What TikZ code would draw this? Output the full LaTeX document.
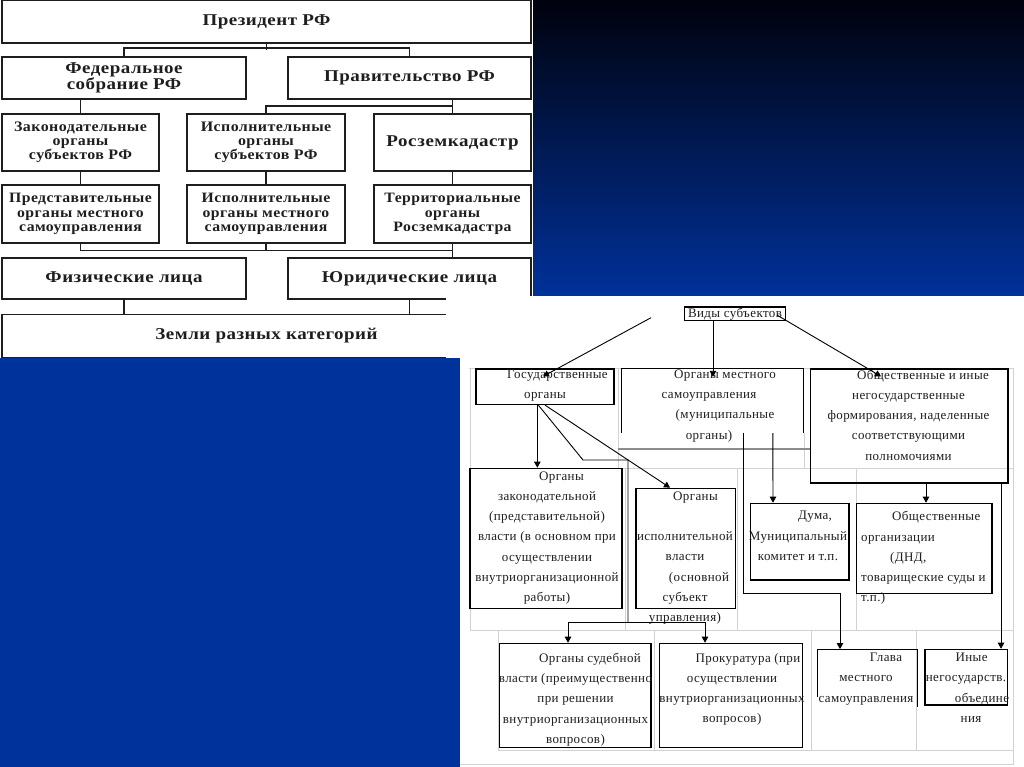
\documentclass[tikz,border=0pt]{standalone}
\usepackage{fontspec}
\setmainfont{Liberation Serif}
\newfontfamily\tpf{Liberation Serif}[FakeStretch=1.1,LetterSpace=3]
\newfontfamily\tpfb{Liberation Serif}[FakeStretch=1.15,LetterSpace=3]
\newfontfamily\rpf{Liberation Serif}[LetterSpace=3]
\usetikzlibrary{arrows.meta,calc}
\newcommand\tightls{\lineskiplimit=-30pt\relax}
\definecolor{bgtop}{HTML}{00020D}
\definecolor{bgmid}{HTML}{00329C}
\definecolor{ink}{HTML}{1E1E1E}
\definecolor{gridc}{HTML}{D2D2D2}
\definecolor{rulec}{HTML}{8C8C8C}
\begin{document}
\begin{tikzpicture}[x=1pt,y=-1pt,
  tbox/.style={draw=ink,line width=1.6pt,inner sep=0pt,text=ink,align=center},
  big/.style={font={\tpfb\bfseries\fontsize{16.5}{15.6}\selectfont\tightls}},
  small/.style={font={\tpf\bfseries\fontsize{14.5}{13.8}\selectfont\tightls}},
  smallb/.style={font={\tpf\bfseries\fontsize{14.3}{14.6}\selectfont\tightls}},
  tline/.style={draw=ink,line width=1.6pt},
  fr/.style={draw=black,line width=1.2pt,inner sep=0pt},
  edge/.style={draw=black,line width=1.2pt},
  rtext/.style={font={\rpf\fontsize{13}{20.3}\selectfont\tightls},text=ink,inner sep=0pt,align=center},
  arr/.style={draw=black,line width=0.9pt,-{Triangle[length=6pt,width=6.5pt]}},
  conn/.style={draw=black,line width=0.9pt},
  gridl/.style={draw=gridc,line width=0.8pt},
]
\useasboundingbox (0,0) rectangle (1024,767);
% background
\shade[top color=bgtop,bottom color=bgmid] (0,0) rectangle (1024,300);
\fill[bgmid] (0,299.5) rectangle (1024,767);

% ---------------- top-left panel ----------------
\fill[white] (0,0) rectangle (533,357.5);
\node[tbox,big,minimum width=529,minimum height=43] (pres) at (266.5,21.5) {Президент РФ};
\node[tbox,big,minimum width=244,minimum height=42] (fed) at (124,78) {Федеральное\\собрание РФ};
\node[tbox,big,minimum width=243,minimum height=42] (prav) at (409.5,78) {Правительство РФ};
\node[tbox,small,minimum width=157,minimum height=57] (zs) at (80.5,142.5) {Законодательные\\органы\\субъектов РФ};
\node[tbox,small,minimum width=158,minimum height=57] (is) at (266,142.5) {Исполнительные\\органы\\субъектов РФ};
\node[tbox,big,minimum width=157,minimum height=57] (rz) at (452.5,142.5) {Росземкадастр};
\node[tbox,smallb,minimum width=157,minimum height=57.5] (zp) at (80.5,214) {Представительные\\органы местного\\самоуправления};
\node[tbox,smallb,minimum width=158,minimum height=57.5] (ip) at (266,214) {Исполнительные\\органы местного\\самоуправления};
\node[tbox,smallb,minimum width=157,minimum height=57.5] (tr) at (452.5,214) {Территориальные\\органы\\Росземкадастра};
\node[tbox,big,minimum width=244,minimum height=41] (fiz) at (124,278.5) {Физические лица};
\node[tbox,big,minimum width=243,minimum height=41] (yur) at (409.5,278.5) {Юридические лица};
\node[tbox,big,minimum width=529,minimum height=43] (zem) at (266.5,336) {Земли разных категорий};

\draw[tline] (pres.south) -- ++(0,6.3);
\draw[tline] (fed.north) -- ++(0,-8) -| (prav.north);
\draw[tline] (fed.south -| zs.north) -- (zs.north);
\draw[tline] (prav.south -| rz.north) -- (rz.north);
\draw[tline] (is.north) -- ++(0,-7) -| (rz.north);
\draw[tline] (zs.south) -- (zp.north);
\draw[tline] (is.south) -- (ip.north);
\draw[tline] (rz.south) -- (tr.north);
\draw[tline] (zp.south) -- ++(0,7) -| (tr.south);
\draw[tline] (ip.south) -- ++(0,7);
\draw[tline] (tr.south) -- (tr.south |- yur.north);
\draw[tline] (fiz.south) -- (fiz.south |- zem.north);
\draw[tline] (yur.south) -- (yur.south |- zem.north);

% ---------------- bottom-right panel ----------------
\fill[white] (446,296) rectangle (1024,767);
\fill[bgmid] (0,357.5) rectangle (460,767);

% faint table grid
\draw[gridl] (469,368) -- (1014,368);
\draw[gridl] (470,468) -- (1014,468);
\draw[gridl] (470,630) -- (1014,630);
\draw[gridl] (498,750) -- (1014,750);
\draw[gridl] (460,764) -- (1014,764);
\draw[gridl] (470,368) -- (470,630);
\draw[gridl] (618,368) -- (618,468);
\draw[gridl] (804,433) -- (804,468);
\draw[gridl] (1013.5,368) -- (1013.5,764);
\draw[gridl] (625,468) -- (625,630);
\draw[gridl] (737,468) -- (737,630);
\draw[gridl] (856.7,468) -- (856.7,630);
\draw[gridl] (498,630) -- (498,750);
\draw[gridl] (654,630) -- (654,750);
\draw[gridl] (811,630) -- (811,750);
\draw[gridl] (916,630) -- (916,750);
\draw[draw=rulec,line width=1.3pt] (618,449) -- (811,449);

% frames
\node[fr,rtext,minimum width=101.5,minimum height=13.5] (vid) at (735,313.8) {Виды субъектов};
\node[fr,minimum width=138,minimum height=35.5] (gos) at (545,386.75) {};
\node[inner sep=0pt,minimum width=181.5,minimum height=64] (oms) at (712.75,401) {};
\draw[edge] (oms.south west) -- (oms.north west) -- (oms.north east) -- (oms.south east);
\node[fr,minimum width=197.3,minimum height=114] (obsh) at (909.35,426) {};
\node[fr,minimum width=152,minimum height=140] (zak) at (546,538.3) {};
\node[fr,minimum width=99.5,minimum height=120] (isp) at (685.75,548.3) {};
\node[fr,minimum width=98.4,minimum height=76.7] (duma) at (799.8,541.65) {};
\node[fr,minimum width=135.2,minimum height=90] (obor) at (924.4,548.3) {};
\node[fr,minimum width=151.4,minimum height=104.4] (sud) at (575.3,695.5) {};
\node[fr,minimum width=143.2,minimum height=104.4] (prok) at (731.2,695.5) {};
\node[inner sep=0pt,minimum width=99,minimum height=57.4] (glava) at (867.5,678) {};
\draw[edge] ($(glava.south west)+(0,-10)$) -- (glava.north west) -- (glava.north east) -- (glava.south east);
\node[fr,minimum width=82.5,minimum height=55.7] (inye) at (966.25,677.15) {};

% texts
\node[rtext,anchor=north] (gosT) at (545,369.5) {\hspace*{25pt}Государственные\\органы};
\node[rtext,anchor=north] (omsT) at (709,369.5) {\hspace*{32pt}Органы местного\\самоуправления\\\hspace*{32pt}(муниципальные\\органы)};
\node[rtext,anchor=north] (obshT) at (908.5,369.5) {\hspace*{29pt}Общественные и иные\\негосударственные\\формирования, наделенные\\соответствующими\\полномочиями};
\node[rtext,anchor=north] (zakT) at (547,471.2) {\hspace*{29pt}Органы\\законодательной\\(представительной)\\власти (в основном при\\осуществлении\\внутриорганизационной\\работы)};
\node[rtext,anchor=north] (ispT) at (685,491.2) {\hspace*{21pt}Органы\\\mbox{}\\исполнительной\\власти\\\hspace*{28pt}(основной\\субъект\\управления)};
\node[rtext,anchor=north] (dumaT) at (798,511.2) {\hspace*{34pt}Дума,\\Муниципальный\\комитет и т.п.};
\node[rtext,align=left,anchor=north west] (oborT) at (861,511.2) {\hspace*{31pt}Общественные\\организации\\\hspace*{29pt}(ДНД,\\товарищеские суды и\\т.п.)};
\node[rtext,anchor=north] (sudT) at (575.5,652.8) {\hspace*{29pt}Органы судебной\\власти (преимущественно\\при решении\\внутриорганизационных\\вопросов)};
\node[rtext,anchor=north] (prokT) at (732,652.8) {\hspace*{32pt}Прокуратура (при\\осуществлении\\внутриорганизационных\\вопросов)};
\node[rtext,anchor=north] (glavaT) at (866,652.8) {\hspace*{40pt}Глава\\местного\\самоуправления};
\node[rtext,anchor=north] (inyeT) at (966,652.8) {\hspace*{11pt}Иные\\негосударств.\\\hspace*{32pt}объедине\\\hspace*{10pt}ния};

% connectors
\coordinate (vidL) at (651,317.7);
\coordinate (b1) at (583,460);
\coordinate (b2) at (628,460);
\coordinate (jn) at (628,622);
\draw[arr] (vidL) -- ($(gos.north)+(-2,8)$);
\draw[arr] ($(vid.south)+(-22,0)$) -- ($(oms.north)+(0.25,8)$);
\draw[arr] ($(vid.east)+(-9.5,1.2)$) -- ($(obsh.north)+(-28.35,8)$);
\draw[arr] ($(gos.south)+(-7.7,0)$) -- ($(zak.north)+(-8.7,0)$);
\draw[arr] (gos.south) -- ($(isp.north)+(-15.75,0)$);
\draw[conn] ($(gos.south)+(-6.7,0)$) -- (b1) -- (b2) -- (jn);
\draw[arr] (jn) -| ($(sud.north)+(-7.3,0)$);
\draw[arr] (jn) -| ($(prok.north)+(-26.2,0)$);
\draw[arr] ($(oms.south west)+(151,0)$) -- ($(duma.north)+(-26.8,0)$);
\draw[arr] ($(oms.south west)+(122,0)$) |- ($(glava.north)+(-27.5,-56)$) -- ($(glava.north)+(-27.5,0)$);
\draw[arr] ($(obsh.south)+(16.65,0)$) -- ($(obor.north)+(1.6,0)$);
\draw[arr] ($(obsh.south)+(91.65,0)$) -- ($(inye.north)+(34.75,0)$);
\end{tikzpicture}
\end{document}
